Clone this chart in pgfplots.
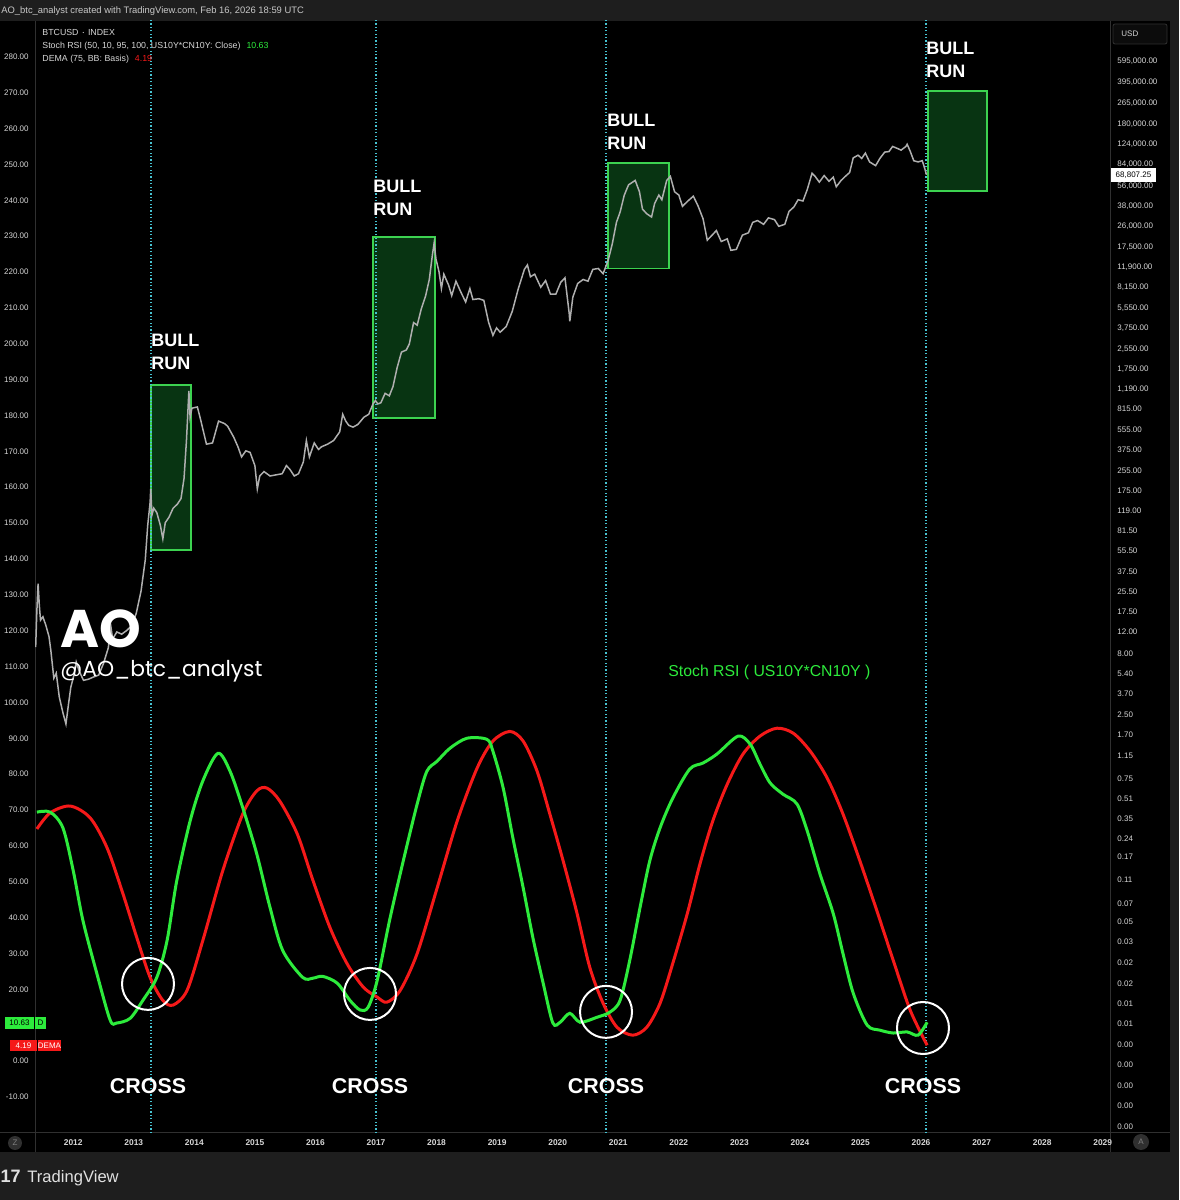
\documentclass[border=0pt]{standalone}
\usepackage{pgfplots}
\usepackage{pgfplotstable}
\pgfplotsset{compat=1.18}
\usepackage{fontspec}
\setmainfont{Liberation Sans}
\newfontfamily\popfont{Poppins}
\definecolor{tvgreen}{RGB}{45,235,60}
\definecolor{tvred}{RGB}{245,25,25}
\definecolor{boxfill}{RGB}{8,52,18}
\definecolor{boxedge}{RGB}{60,210,80}
\definecolor{dotcyan}{RGB}{70,195,210}
\definecolor{pricegray}{RGB}{175,175,175}
\definecolor{barbg}{RGB}{30,30,30}
\definecolor{sepc}{RGB}{48,48,48}
\definecolor{lbl}{RGB}{215,215,215}

\pgfplotstableread{
x y
2011.40 69.4
2011.62 69.4
2011.83 65.0
2012.00 53.1
2012.16 39.2
2012.39 24.4
2012.61 11.4
2012.72 10.6
2012.94 11.9
2013.15 16.9
2013.38 23.3
2013.55 33.6
2013.71 50.3
2013.93 66.9
2014.14 78.1
2014.39 85.8
2014.59 80.8
2014.80 70.6
2015.03 57.8
2015.25 42.8
2015.46 30.8
2015.79 23.3
2015.96 23.1
2016.12 23.6
2016.36 21.7
2016.57 16.9
2016.74 14.2
2016.87 15.0
2017.02 22.5
2017.23 39.7
2017.45 55.8
2017.68 71.7
2017.84 80.8
2018.01 83.6
2018.22 87.2
2018.50 90.0
2018.83 89.7
2018.93 86.4
2019.10 76.1
2019.26 62.2
2019.43 48.3
2019.59 34.4
2019.76 21.7
2019.92 10.6
2020.04 10.8
2020.20 13.3
2020.37 10.8
2020.65 12.2
2020.86 13.6
2021.03 16.9
2021.19 28.1
2021.36 42.8
2021.52 55.8
2021.69 65.0
2021.90 73.3
2022.18 81.4
2022.40 83.1
2022.63 85.6
2022.98 90.6
2023.18 88.3
2023.34 82.8
2023.51 77.5
2023.72 74.4
2023.95 71.7
2024.12 64.2
2024.33 52.2
2024.55 41.1
2024.71 30.0
2024.88 18.9
2025.11 10.0
2025.32 8.6
2025.54 7.8
2025.77 8.1
2025.95 7.2
2026.10 10.8
}\greendata

\pgfplotstableread{
x y
2011.40 64.7
2011.62 69.2
2011.95 71.1
2012.28 67.8
2012.56 59.4
2012.82 46.7
2013.05 34.4
2013.27 23.3
2013.48 16.9
2013.65 15.6
2013.88 19.7
2014.14 33.6
2014.47 53.1
2014.80 68.9
2015.03 75.3
2015.20 76.1
2015.41 72.5
2015.70 63.3
2015.96 50.3
2016.24 37.2
2016.52 27.2
2016.79 20.6
2017.02 17.8
2017.18 16.4
2017.40 19.7
2017.68 30.0
2018.01 48.3
2018.34 66.9
2018.67 81.7
2018.93 89.2
2019.21 91.9
2019.43 89.2
2019.66 80.8
2019.87 68.9
2020.09 55.8
2020.32 41.1
2020.53 26.1
2020.75 16.1
2020.98 9.4
2021.24 7.2
2021.47 9.4
2021.69 16.1
2021.90 27.2
2022.14 41.1
2022.35 55.0
2022.56 66.9
2022.80 77.2
2023.06 85.6
2023.34 90.6
2023.62 92.8
2023.89 91.4
2024.17 86.4
2024.45 78.9
2024.71 68.9
2024.99 55.8
2025.27 41.9
2025.54 28.1
2025.82 14.2
2026.10 4.4
}\reddata

\pgfplotstableread{
x y
2011.38 9.0
2011.40 18
2011.42 30
2011.44 20
2011.46 15
2011.50 16
2011.55 13.5
2011.60 11
2011.63 8.5
2011.68 5.0
2011.72 5.5
2011.77 3.5
2011.83 2.6
2011.88 2.1
2011.92 3.0
2011.96 4.2
2012.02 5.5
2012.05 6.8
2012.10 5.7
2012.17 4.8
2012.25 4.9
2012.33 5.1
2012.42 5.3
2012.50 6.6
2012.58 8.9
2012.62 13.5
2012.65 10.5
2012.72 12.0
2012.80 11.5
2012.88 12.3
2012.96 13.4
2013.04 17
2013.12 26
2013.19 47
2013.23 90
2013.27 140
2013.28 180
2013.30 110
2013.33 125
2013.38 115
2013.44 90
2013.48 70
2013.52 95
2013.58 105
2013.65 125
2013.72 135
2013.78 150
2013.83 220
2013.87 450
2013.91 1150
2013.93 700
2013.96 830
2014.05 850
2014.10 680
2014.20 420
2014.30 430
2014.40 650
2014.50 620
2014.55 590
2014.65 480
2014.72 400
2014.78 330
2014.85 370
2014.92 360
2015.00 280
2015.04 180
2015.08 230
2015.15 250
2015.25 230
2015.35 235
2015.45 240
2015.52 280
2015.58 260
2015.65 230
2015.72 240
2015.80 300
2015.85 450
2015.90 330
2015.98 430
2016.05 380
2016.10 400
2016.20 420
2016.30 450
2016.40 530
2016.45 740
2016.50 650
2016.55 600
2016.62 580
2016.70 610
2016.80 700
2016.88 740
2016.95 900
2016.99 960
2017.03 900
2017.08 920
2017.15 1100
2017.22 1050
2017.28 1250
2017.35 1800
2017.42 2400
2017.50 2500
2017.55 2800
2017.62 4200
2017.68 4000
2017.75 5500
2017.82 7000
2017.88 9500
2017.93 15000
2017.96 19000
2017.99 14000
2018.04 11000
2018.08 8000
2018.12 10500
2018.20 8500
2018.25 7000
2018.32 9200
2018.40 7500
2018.48 6200
2018.55 8000
2018.60 6500
2018.70 6600
2018.78 6400
2018.86 4200
2018.93 3300
2018.99 3800
2019.05 3500
2019.15 3900
2019.25 5200
2019.35 8000
2019.45 11500
2019.50 12500
2019.55 10000
2019.62 10500
2019.72 8200
2019.80 9300
2019.88 7200
2019.97 7200
2020.05 9000
2020.12 9800
2020.19 5000
2020.20 4300
2020.25 6800
2020.33 8800
2020.42 9500
2020.50 9200
2020.58 11500
2020.67 11700
2020.75 10600
2020.83 13500
2020.90 18500
2020.97 28000
2021.03 34000
2021.10 47000
2021.17 57000
2021.28 62000
2021.35 50000
2021.40 36000
2021.47 33000
2021.55 31000
2021.60 40000
2021.67 47000
2021.72 43000
2021.80 62000
2021.86 67000
2021.93 50000
2022.00 47000
2022.06 38000
2022.15 42000
2022.24 46000
2022.32 38000
2022.40 30000
2022.47 20000
2022.55 22000
2022.62 24000
2022.70 19500
2022.80 20500
2022.86 16500
2022.95 16800
2023.05 22000
2023.15 23000
2023.22 28000
2023.30 29000
2023.40 27000
2023.48 30500
2023.58 29500
2023.65 26000
2023.75 27000
2023.82 34500
2023.90 37500
2023.97 43000
2024.05 42000
2024.12 52000
2024.20 71000
2024.25 67000
2024.32 60000
2024.40 68000
2024.48 61000
2024.55 66000
2024.60 55000
2024.68 62000
2024.75 67000
2024.82 72000
2024.88 95000
2024.96 100000
2025.02 94000
2025.08 104000
2025.15 88000
2025.25 82000
2025.32 94000
2025.40 106000
2025.47 107000
2025.53 118000
2025.62 113000
2025.67 110000
2025.75 118000
2025.77 123000
2025.82 108000
2025.88 90000
2025.95 88000
2026.02 90000
2026.06 78000
2026.09 69000
}\pricedata

\pgfplotsset{tvaxis/.style={
  at={(17.5pt,33.5pt)}, anchor=south west,
  width=537.5pt, height=556.5pt, scale only axis,
  xmin=2011.369, xmax=2029.120,
  axis line style={draw=none}, major tick length=0pt, tick style={draw=none},
  /pgf/number format/assume math mode=true,
}}

\begin{document}
\begin{tikzpicture}[x=0.5pt,y=0.5pt]
\path[use as bounding box] (0,0) rectangle (1179,1200);
\clip (0,0) rectangle (1179,1200);
\fill[black] (0,0) rectangle (1179,1200);
\fill[barbg] (0,1179) rectangle (1179,1200);
\fill[barbg] (0,0) rectangle (1179,48);
\fill[barbg] (1170,0) rectangle (1179,1200);
\draw[sepc, line width=0.5pt] (35,48) -- (35,1179);
\draw[sepc, line width=0.5pt] (1110,48) -- (1110,1179);
\draw[sepc, line width=0.5pt] (0,67) -- (1170,67);

\begin{axis}[tvaxis,
  ymin=-20.08, ymax=290.3,
  xtick={2012,2013,...,2029},
  xticklabel style={/pgf/number format/1000 sep={}, font=\fontsize{4.2}{5}\selectfont\bfseries, text=lbl, anchor=center, inner sep=0pt, yshift=-5pt},
  ytick={-10,0,...,280},
  yticklabel style={/pgf/number format/fixed, /pgf/number format/fixed zerofill, /pgf/number format/precision=2, font=\fontsize{4}{5}\selectfont, text=lbl, anchor=east, inner sep=0pt, xshift=-3pt},
]
\fill[boxfill, draw=boxedge, line width=0.6pt] (axis cs:2013.285,142.5) rectangle (axis cs:2013.945,188.5);
\fill[boxfill, draw=boxedge, line width=0.6pt] (axis cs:2016.950,179.3) rectangle (axis cs:2017.974,229.8);
\fill[boxfill, draw=boxedge, line width=0.6pt] (axis cs:2020.831,220.9) rectangle (axis cs:2021.838,250.4);
\fill[boxfill, draw=boxedge, line width=0.6pt] (axis cs:2026.115,242.6) rectangle (axis cs:2027.089,270.5);
\draw[dotcyan, line width=0.6pt, dash pattern=on 0.6pt off 1.1pt] (axis cs:2013.285,-20.08) -- (axis cs:2013.285,290.3);
\draw[dotcyan, line width=0.6pt, dash pattern=on 0.6pt off 1.1pt] (axis cs:2017.0,-20.08) -- (axis cs:2017.0,290.3);
\draw[dotcyan, line width=0.6pt, dash pattern=on 0.6pt off 1.1pt] (axis cs:2020.798,-20.08) -- (axis cs:2020.798,290.3);
\draw[dotcyan, line width=0.6pt, dash pattern=on 0.6pt off 1.1pt] (axis cs:2026.082,-20.08) -- (axis cs:2026.082,290.3);
\addplot[tvred, line width=1.5pt, smooth, tension=0.5] table[x=x,y=y] {\reddata};
\addplot[tvgreen, line width=1.5pt, smooth, tension=0.5] table[x=x,y=y] {\greendata};
\draw[white, line width=1pt] (axis cs:2013.235,21.5) circle[radius=13pt];
\draw[white, line width=1pt] (axis cs:2016.901,18.7) circle[radius=13pt];
\draw[white, line width=1pt] (axis cs:2020.798,13.7) circle[radius=13pt];
\draw[white, line width=1pt] (axis cs:2026.032,9.2) circle[radius=13pt];
\end{axis}

\begin{axis}[tvaxis,
  ymode=log, ymin=9.09e-4, ymax=1.2931e6,
  hide x axis, axis y line*=right,
  ytick={0.00102,0.00151,0.00222,0.00328,0.00483,0.00713,0.01051,0.01549,0.02284,0.0337,0.0497,0.07,0.11,0.17,0.24,0.35,0.51,0.75,1.15,1.7,2.5,3.7,5.4,8,12,17.5,25.5,37.5,55.5,81.5,119,175,255,375,555,815,1190,1750,2550,3750,5550,8150,11900,17500,26000,38000,56000,84000,124000,180000,265000,395000,595000},
  yticklabels={0.00,0.00,0.00,0.00,0.00,0.01,0.01,0.02,0.02,0.03,0.05,0.07,0.11,0.17,0.24,0.35,0.51,0.75,1.15,1.70,2.50,3.70,5.40,8.00,12.00,17.50,25.50,37.50,55.50,81.50,119.00,175.00,255.00,375.00,555.00,815.00,{1,190.00},{1,750.00},{2,550.00},{3,750.00},{5,550.00},{8,150.00},{11,900.00},{17,500.00},{26,000.00},{38,000.00},{56,000.00},{84,000.00},{124,000.00},{180,000.00},{265,000.00},{395,000.00},{595,000.00}},
  yticklabel style={font=\fontsize{4}{5}\selectfont, text=lbl, anchor=west, inner sep=0pt, xshift=3.5pt},
]
\addplot[pricegray, line width=0.75pt] table[x=x,y=y] {\pricedata};
\end{axis}

% header
\node[anchor=base west, inner sep=0pt, text={rgb,255:red,200;green,200;blue,200}, font=\fontsize{4.7}{6}\selectfont] at (1,1186) {AO\_btc\_analyst created with TradingView.com, Feb 16, 2026 18:59 UTC};
% legend
\node[anchor=base west, inner sep=0pt, text=lbl, font=\fontsize{4.4}{5}\selectfont] at (42,1164) {BTCUSD $\cdot$ INDEX};
\node[anchor=base west, inner sep=0pt, text=lbl, font=\fontsize{4.4}{5}\selectfont] at (42,1151) {Stoch RSI (50, 10, 95, 100, US10Y*CN10Y: Close)\hspace{3pt}\textcolor{tvgreen}{10.63}};
\node[anchor=base west, inner sep=0pt, text=lbl, font=\fontsize{4.4}{5}\selectfont] at (42,1138) {DEMA (75, BB: Basis)\hspace{3pt}\textcolor{tvred}{4.19}};
% USD box
\draw[sepc, fill={rgb,255:red,12;green,12;blue,12}, rounded corners=1pt] (1113,1156) rectangle (1167,1176);
\node[anchor=base west, inner sep=0pt, text=lbl, font=\fontsize{4}{5}\selectfont] at (1121,1163) {USD};
% last price
\fill[white] (1111,1018) rectangle (1156,1032);
\node[anchor=center, inner sep=0pt, text=black, font=\fontsize{4}{5}\selectfont] at (1133.5,1025) {68,807.25};
% indicator value tags
\fill[tvgreen] (5,171) rectangle (34,183);
\node[anchor=center, inner sep=0pt, text=black, font=\fontsize{4}{5}\selectfont] at (19.5,177) {10.63};
\fill[tvgreen] (35,171) rectangle (46,183);
\node[anchor=center, inner sep=0pt, text=black, font=\fontsize{4}{5}\selectfont] at (40.5,177) {D};
\fill[tvred] (10,149) rectangle (37,160);
\node[anchor=center, inner sep=0pt, text=white, font=\fontsize{4}{5}\selectfont] at (23.5,154.5) {4.19};
\fill[tvred] (38,149) rectangle (61,160);
\node[anchor=center, inner sep=0pt, text=white, font=\fontsize{4}{5}\selectfont] at (49.5,154.5) {DEMA};
% bull run labels
\foreach \bx/\by in {151/853, 373/1007, 607/1073, 926/1145}{
  \node[anchor=base west, inner sep=0pt, text=white, font=\fontsize{9}{10}\selectfont\bfseries] at (\bx,\by) {BULL};
  \node[anchor=base west, inner sep=0pt, text=white, font=\fontsize{9}{10}\selectfont\bfseries] at (\bx,\by-23) {RUN};
}
% cross labels
\foreach \cx in {148,370,606,923}{
  \node[anchor=base, inner sep=0pt, text=white, font=\fontsize{10.7}{12}\selectfont\bfseries] at (\cx,106) {CROSS};
}
% watermark
\node[anchor=base west, inner sep=0pt, text=white, font=\popfont\bfseries\fontsize{26.5}{28}\selectfont] at (60,552) {AO};
\node[anchor=base west, inner sep=0pt, text=white, font=\popfont\fontsize{10.9}{13}\selectfont] at (60,523) {@AO\_btc\_analyst};
\node[anchor=base west, inner sep=0pt, text=tvgreen, font=\fontsize{7.9}{9}\selectfont] at (668,523) {Stoch RSI ( US10Y*CN10Y )};
% buttons
\fill[sepc] (15,57) circle[radius=7];
\node[text=gray, inner sep=0pt, font=\fontsize{4}{5}\selectfont] at (15,57) {Z};
\fill[sepc] (1141,58) circle[radius=8];
\node[text=gray, inner sep=0pt, font=\fontsize{4}{5}\selectfont] at (1141,58) {A};
% footer
\node[anchor=base east, inner sep=0pt, text={rgb,255:red,225;green,225;blue,225}, font=\fontsize{9}{10}\selectfont\bfseries] at (21,18) {17};
\node[anchor=base west, inner sep=0pt, text={rgb,255:red,225;green,225;blue,225}, font=\fontsize{8.3}{10}\selectfont] at (27,18) {TradingView};
\end{tikzpicture}
\end{document}
